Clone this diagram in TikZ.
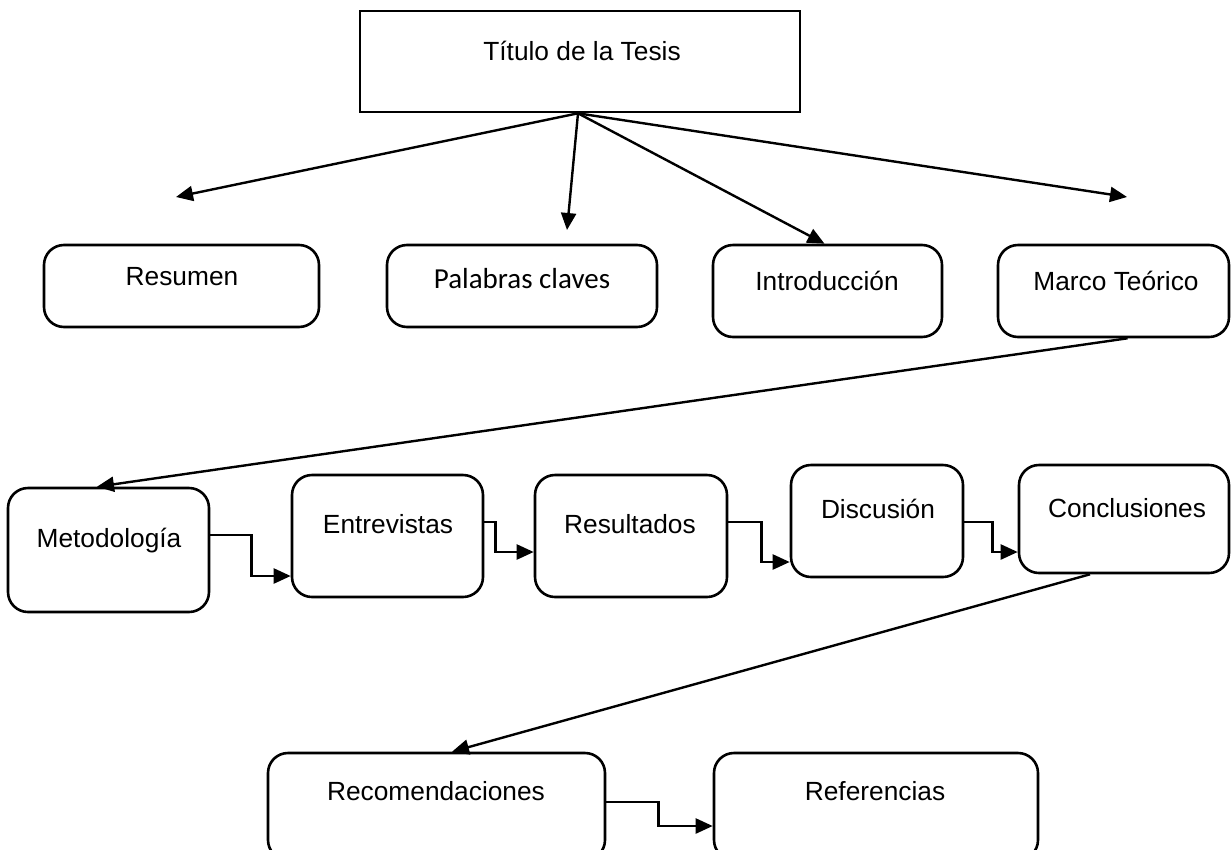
\documentclass[tikz,border=0pt]{standalone}
\usepackage{fontspec}
\setmainfont{Liberation Sans}
\newfontfamily\calibrifont{Carlito}
\usetikzlibrary{arrows.meta}
\begin{document}
\begin{tikzpicture}[x=1pt,y=-1pt,
  rbox/.style={draw, line width=2.6pt, rounded corners=20pt, inner sep=0pt, fill=white},
  sbox/.style={draw, line width=2.6pt, inner sep=0pt, fill=white},
  txt/.style={anchor=base, inner sep=0pt, font=\fontsize{26.3}{31}\selectfont},
  ctxt/.style={anchor=base, inner sep=0pt, font=\calibrifont\fontsize{29}{34}\selectfont},
  arr/.style={line width=2.4pt, -{Triangle[length=17pt,width=15pt]}},
  ln/.style={line width=2.4pt}]
\useasboundingbox (0,0) rectangle (1231,849);
\clip (0,0) rectangle (1231,849);
% boxes
\node[sbox, minimum width=440pt, minimum height=101pt] (title) at (580,61.5) {};
\node[rbox, minimum width=275pt, minimum height=82pt] (res) at (181.5,286) {};
\node[rbox, minimum width=270pt, minimum height=82pt] (pal) at (522,286) {};
\node[rbox, minimum width=229pt, minimum height=92pt] (intro) at (827.5,291) {};
\node[rbox, minimum width=231pt, minimum height=92pt] (marco) at (1113.5,291) {};
\node[rbox, minimum width=201pt, minimum height=124pt] (met) at (108.5,550) {};
\node[rbox, minimum width=191pt, minimum height=122pt] (ent) at (387.5,536) {};
\node[rbox, minimum width=192pt, minimum height=122pt] (resu) at (631,536) {};
\node[rbox, minimum width=172pt, minimum height=112pt] (dis) at (877,521) {};
\node[rbox, minimum width=210pt, minimum height=108pt] (con) at (1124,519) {};
\node[rbox, minimum width=337pt, minimum height=107pt] (rec) at (436.5,806.5) {};
\node[rbox, minimum width=324pt, minimum height=107pt] (ref) at (876,806.5) {};
% texts
\node[txt] (title-t) at (582,60) {Título de la Tesis};
\node[txt] (res-t) at (182,285) {Resumen};
\node[ctxt] (pal-t) at (522,288) {Palabras claves};
\node[txt] (intro-t) at (827,290) {Introducción};
\node[txt] (marco-t) at (1116,290) {Marco Teórico};
\node[txt] (met-t) at (109,547) {Metodología};
\node[txt] (ent-t) at (388,533) {Entrevistas};
\node[txt] (resu-t) at (630,533) {Resultados};
\node[txt] (dis-t) at (878,518) {Discusión};
\node[txt] (con-t) at (1127,517) {Conclusiones};
\node[txt] (rec-t) at (436,800) {Recomendaciones};
\node[txt] (ref-t) at (875,800) {Referencias};
% free arrow ends
\coordinate (tres) at (176,197);
\coordinate (tpal) at (567,230);
\coordinate (tmarco) at (1127,197);
% connectors from title
\draw[arr] ([xshift=-2pt]title.south) -- (tres);
\draw[arr] ([xshift=-2pt]title.south) -- (tpal);
\draw[arr] ([xshift=-2pt]title.south) -- ([xshift=-3pt]intro.north);
\draw[arr] ([xshift=-2pt]title.south) -- (tmarco);
% long diagonals
\draw[arr] ([xshift=14pt]marco.south) -- ([xshift=-11.5pt]met.north);
\draw[arr] ([xshift=-34pt]con.south) -- ([xshift=15.5pt]rec.north);
% elbows
\draw[arr] ([yshift=15pt]met.east) -- ++(41,0) |- ([yshift=-40pt]ent.west);
\draw[arr] ([yshift=14pt]ent.east) -- ++(11,0) |- ([yshift=-16pt]resu.west);
\draw[arr] ([yshift=14pt]resu.east) -- ++(33,0) |- ([yshift=-41pt]dis.west);
\draw[arr] ([yshift=-1pt]dis.east) -- ++(28,0) |- ([yshift=-33pt]con.west);
\draw[arr] ([yshift=4.5pt]rec.east) -- ++(52,0) |- ([yshift=-19.5pt]ref.west);
\end{tikzpicture}
\end{document}
